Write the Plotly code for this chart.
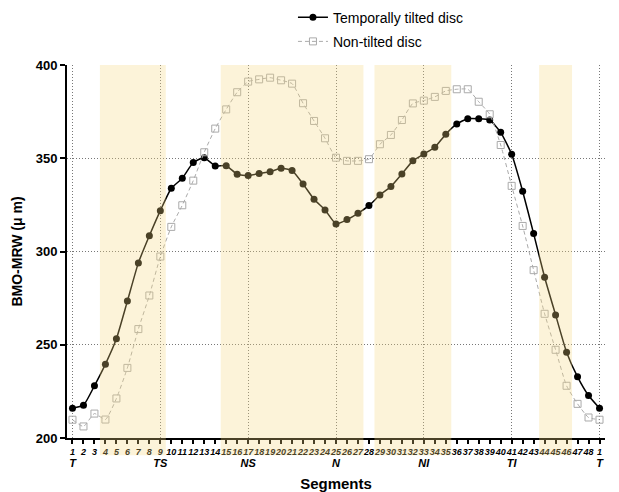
import plotly.graph_objects as go

# ---- data ----
segment_labels = [str(s) for s in list(range(1, 49)) + [1]]
region_labels = {1: "T", 9: "TS", 17: "NS", 25: "N", 33: "NI", 41: "TI", 49: "T"}
tilted = [216, 217.6, 228, 239.6, 253.2, 273.4, 293.9, 308.4, 321.9, 333.9,
          339.3, 347.7, 350.3, 345.9, 346, 341.4, 340.7, 341.8, 342.8, 344.6,
          343.4, 336.2, 328, 322.3, 314.8, 317.1, 320.5, 324.6, 330.3, 334.8,
          341.6, 348.6, 352.3, 355.9, 362.9, 368.4, 371.2, 371.2, 370.5, 363.9,
          352.1, 332.3, 309.6, 286.2, 266, 246, 232.8, 222.8, 216]
nontilted = [209.8, 206.2, 213.1, 209.9, 221.2, 237.6, 258.4, 276.4, 297.3, 313.2,
             324.8, 338, 353.2, 365.9, 376.2, 385.4, 391.1, 392.3, 393.2, 391.8,
             390, 379.5, 370, 360.7, 350.3, 348.6, 348.6, 349.5, 357.5, 362.5,
             370.5, 379.4, 380.9, 382.9, 386.1, 387, 387, 380.3, 373.6, 357.1,
             335.2, 313.7, 290, 266.6, 247.3, 228, 218.3, 211, 209.8]
shaded_segments = [(4, 9), (15, 27), (29, 35), (44, 46)]
grid_positions = [1, 9, 17, 25, 33, 41, 49]

positions = list(range(1, len(segment_labels) + 1))
ticktext = [lab + "<br><span style='font-size:11px'>" +
            (region_labels[p] if p in region_labels else " ") + "</span>"
            for p, lab in zip(positions, segment_labels)]

FONT = "Arial, Liberation Sans, sans-serif"

fig = go.Figure()
fig.add_trace(go.Scatter(
    x=positions, y=tilted, mode="lines+markers", name="Temporally tilted disc",
    legendgroup="a",
    line=dict(color="black", width=1.5, shape="spline", smoothing=0.5),
    marker=dict(symbol="circle", size=7, color="black"),
))
fig.add_trace(go.Scatter(
    x=positions, y=nontilted, mode="lines+markers", name="Non-tilted disc",
    legendgroup="b",
    line=dict(color="#aaaaaa", width=1, dash="4px,3px", shape="spline", smoothing=0.5),
    marker=dict(symbol="square-open", size=7, color="#aaaaaa", line=dict(width=1)),
))
# invisible helper on x2 for the sparse vertical grid
fig.add_trace(go.Scatter(x=[positions[0], positions[-1]], y=[None, None], xaxis="x2",
                         showlegend=False, hoverinfo="skip", mode="lines"))

for a, b in shaded_segments:
    fig.add_shape(type="rect", xref="x", yref="paper", x0=a - 0.5, x1=b + 0.5,
                  y0=-0.046, y1=1, fillcolor="rgb(245,215,130)", opacity=0.3,
                  line=dict(width=0), layer="above")

fig.update_layout(
    width=619, height=492,
    margin=dict(l=67, r=13.5, t=65, b=54, autoexpand=False),
    plot_bgcolor="white", paper_bgcolor="white",
    font=dict(family=FONT, color="black"),
    showlegend=True,
    legend=dict(x=0.42, y=1.17, xanchor="left", yanchor="top",
                font=dict(size=14, family=FONT), bgcolor="rgba(0,0,0,0)",
                traceorder="grouped", tracegroupgap=3),
    xaxis=dict(
        range=[0.5, len(positions) + 0.5], tickmode="array", tickvals=positions,
        ticktext=ticktext, tickangle=0, showgrid=False, zeroline=False,
        showline=True, linecolor="black", linewidth=2,
        ticks="outside", ticklen=4, tickwidth=1.5, tickcolor="black",
        tickfont=dict(size=9, family=FONT, weight="bold", style="italic"),
        title=dict(text="<b>Segments</b>", font=dict(size=15, family=FONT), standoff=12),
    ),
    xaxis2=dict(
        overlaying="x", matches="x", range=[0.5, len(positions) + 0.5],
        tickmode="array", tickvals=grid_positions, showticklabels=False,
        ticks="", showline=False, zeroline=False, showgrid=True,
        gridcolor="#777777", gridwidth=1, griddash="1px,2px",
    ),
    yaxis=dict(
        range=[200, 400], tickvals=[200, 250, 300, 350, 400],
        showgrid=True, gridcolor="#777777", gridwidth=1, griddash="1px,2px",
        zeroline=False, showline=True, linecolor="black", linewidth=2,
        ticks="outside", ticklen=5, tickwidth=1.5, tickcolor="black",
        tickfont=dict(size=13, family=FONT, weight="bold"),
        title=dict(text="<b>BMO-MRW (μ m)</b>", font=dict(size=14, family=FONT), standoff=10),
    ),
)

fig.write_html("out.html")
